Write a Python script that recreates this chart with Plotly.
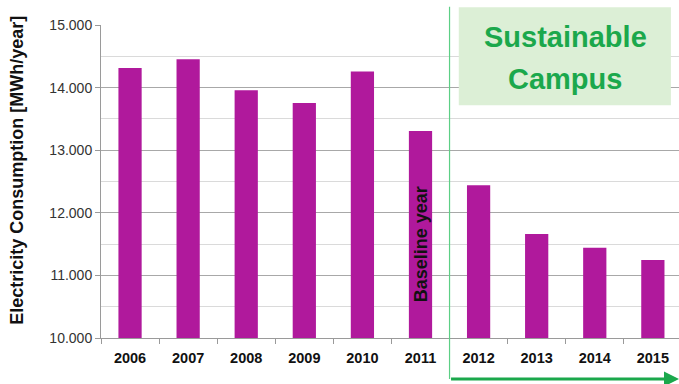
import plotly.graph_objects as go

# Annual electricity consumption of the campus (MWh/year)
years = ["2006", "2007", "2008", "2009", "2010", "2011", "2012", "2013", "2014", "2015"]
consumption = [14313, 14452, 13958, 13753, 14258, 13306, 12440, 11660, 11440, 11245]
y_ticks = [10000, 11000, 12000, 13000, 14000, 15000]

BAR = "#b0199c"
GREEN = "#1ba84c"
FONT = "Liberation Sans, Arial, sans-serif"

fig = go.Figure(
    go.Bar(
        x=years,
        y=consumption,
        marker=dict(color=BAR, line=dict(width=0)),
        width=0.4,
    )
)

fig.update_layout(
    width=679,
    height=384,
    margin=dict(l=101, r=0, t=25, b=46),
    paper_bgcolor="white",
    plot_bgcolor="white",
    separators=",.",
    showlegend=False,
    font=dict(family=FONT, color="#222"),
)

fig.update_xaxes(
    range=[-0.5, 9.45],
    showline=True,
    linecolor="#9a9a9a",
    linewidth=1,
    ticks="outside",
    tickson="boundaries",
    ticklen=5,
    tickcolor="#9a9a9a",
    showgrid=False,
    ticklabelstandoff=7,
    tickfont=dict(family=FONT, size=14.5, color="#111", weight="bold"),
)

fig.update_yaxes(
    range=[10000, 15000],
    tickvals=y_ticks,
    tickformat=",d",
    showline=True,
    linecolor="#9a9a9a",
    ticks="outside",
    ticklen=5,
    tickcolor="#9a9a9a",
    gridcolor="#a8a8a8",
    gridwidth=1,
    minor=dict(dtick=500, showgrid=True, gridcolor="#dadada", ticks=""),
    zeroline=False,
    tickfont=dict(family=FONT, size=14, color="#333"),
)

# Axis title, placed a little above the plot's vertical centre
fig.add_annotation(
    xref="paper", yref="paper", x=-0.1453, y=0.534,
    xanchor="center", yanchor="middle",
    text="Electricity Consumption [MWh/year]", textangle=-90,
    showarrow=False,
    font=dict(family=FONT, size=18, color="#111", weight="bold"),
)

# Divider between baseline period and the Sustainable Campus period
fig.add_shape(
    type="line", xref="x", yref="paper",
    x0=5.5, x1=5.5, y0=-0.131, y1=1.058,
    line=dict(color="#5ccf85", width=1.2),
)

# Arrow along the bottom marking the programme period
fig.add_annotation(
    xref="x", yref="paper", axref="x", ayref="pixel",
    x=9.45, y=-0.131, ax=5.5, ay=0,
    text="", showarrow=True,
    arrowhead=2, arrowsize=1, arrowwidth=3, arrowcolor=GREEN,
)

# Label box
fig.add_shape(
    type="rect", xref="paper", yref="paper",
    x0=0.619, x1=0.986, y0=0.744, y1=1.057,
    fillcolor="#dcefd6", line=dict(width=0), layer="above",
)
fig.add_annotation(
    xref="paper", yref="paper", x=0.803, y=0.962,
    xanchor="center", yanchor="middle",
    text="Sustainable", showarrow=False,
    font=dict(family=FONT, size=29, color=GREEN, weight="bold"),
)
fig.add_annotation(
    xref="paper", yref="paper", x=0.803, y=0.828,
    xanchor="center", yanchor="middle",
    text="Campus", showarrow=False,
    font=dict(family=FONT, size=29, color=GREEN, weight="bold"),
)

# Baseline year label inside the 2011 bar
fig.add_annotation(
    xref="x", yref="y", x=5, y=11490,
    xanchor="center", yanchor="middle",
    text="Baseline year", textangle=-90,
    showarrow=False,
    font=dict(family=FONT, size=18, color="#111", weight="bold"),
)

fig.write_html("out.html")
